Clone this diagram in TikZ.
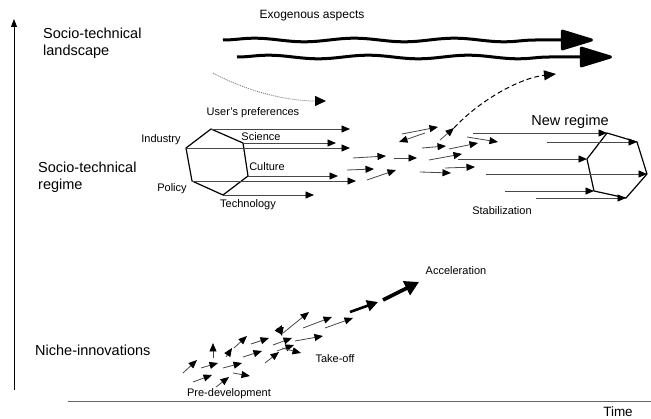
\documentclass[tikz,border=0pt]{standalone}
\usepackage{fontspec}
\setmainfont{Liberation Sans}
\usetikzlibrary{arrows.meta,decorations.pathmorphing}

\tikzset{
  big/.style={font=\fontsize{14.5}{17}\selectfont, align=left, inner sep=0},
  lbl/.style={font=\fontsize{11}{13}\selectfont, inner sep=0},
  arr/.style={draw=black!72, line width=0.8pt, -{Triangle[length=8.5pt,width=7pt,color=black]}},
  hexedge/.style={draw=black, line width=1.2pt, line join=round},
  axisline/.style={draw=black, line width=0.9pt},
  wave/.style={draw=black, line width=3pt, decorate,
    decoration={snake, segment length=100pt, amplitude=1.8pt, post length=36pt}},
}

\begin{document}
\begin{tikzpicture}[x=1pt,y=-1pt]
\useasboundingbox (0,0) rectangle (651,419);

% axes
\coordinate (yb) at (14,390);
\coordinate (yt) at (14,19);
\draw[axisline, -{Triangle[length=8pt,width=6pt]}] (yb) -- (yt);
\coordinate (xl) at (68,401.5);
\coordinate (xr) at (651,401.5);
\draw[draw=black!60, line width=1pt] (xl) -- (xr);
\node[font=\fontsize{13.5}{15}\selectfont, inner sep=0] (time) at (618,412) {Time};

% level labels
\node[big, anchor=west] (land) at (43,43.5) {Socio-technical\\landscape};
\node[big, anchor=west] (reg) at (38,177.5) {Socio-technical\\regime};
\node[big, anchor=west] (niche) at (35,350) {Niche-innovations};

% landscape: exogenous developments
\node[font=\fontsize{12}{14}\selectfont, inner sep=0] (exo) at (312,16) {Exogenous aspects};
\coordinate (w1s) at (223,40);
\coordinate (w1e) at (593,40);
\coordinate (w2s) at (237,57);
\coordinate (w2e) at (612,57);
\draw[wave, -{Triangle[length=36pt,width=21pt,round]}] (w1s) -- (w1e);
\draw[wave, -{Triangle[length=36pt,width=21pt,round]}] (w2s) -- (w2e);

% pressure from landscape onto regime
\coordinate (ds) at (213,73);
\coordinate (de) at (326,101);
\draw[draw=black!55, line width=0.8pt, dash pattern=on 1pt off 1pt, -{Triangle[length=11pt,width=10pt,color=black]}]
  (ds) .. controls (250,93) and (290,101) .. (de);

% old regime hexagon
\coordinate (h1) at (211,129);
\coordinate (h2) at (243,143);
\coordinate (h3) at (248,176);
\coordinate (h4) at (223,195);
\coordinate (h5) at (192,181);
\coordinate (h6) at (186,148);
\draw[hexedge] (h1) -- (h2) -- (h3) -- (h4) -- (h5) -- (h6) -- cycle;

\coordinate (o1) at (350,129);
\coordinate (o2) at (336,143);
\coordinate (o3) at (350,148);
\coordinate (o4) at (338,176);
\coordinate (o5) at (356,181);
\coordinate (o6) at (314,195);
\draw[arr] (h1) -- (o1);
\draw[arr] (h2) -- (o2);
\draw[arr] (h6) -- (o3);
\draw[arr] (h3) -- (o4);
\draw[arr] (h5) -- (o5);
\draw[arr] (h4) -- (o6);

\node[lbl] (pref) at (253,113) {User's preferences};
\node[lbl] (ind) at (161,140) {Industry};
\node[lbl] (sci) at (261,137) {Science};
\node[lbl] (cul) at (267,167) {Culture};
\node[lbl] (pol) at (172,189) {Policy};
\node[lbl] (tech) at (248,205) {Technology};

% regime in flux
\foreach \ax/\ay/\bx/\by in {
  353/158/386/156, 394/158/417/158, 347/170/374/169, 367/180/396/170,
  402/134/438/127, 425/133/399/142, 422/148/446/146, 449/149/478/143,
  429/160/462/154, 420/172/451/173, 445/168/475/167, 467/137/498/142}
  \draw[arr] (\ax,\ay) -- (\bx,\by);

% window of opportunity upward
\coordinate (us) at (440,140);
\coordinate (um) at (454,128);
\coordinate (ue) at (556,74);
\draw[arr] (us) -- (um);
\draw[draw=black, line width=1pt, dash pattern=on 5pt off 3pt, -{Triangle[length=12pt,width=10pt]}]
  (um) .. controls (480,100) and (520,78) .. (ue);

% new regime hexagon
\coordinate (n1) at (607,133);
\coordinate (n2) at (637,142);
\coordinate (n3) at (647,174);
\coordinate (n4) at (626,198);
\coordinate (n5) at (594,191);
\coordinate (n6) at (587,159);
\draw[hexedge] (n1) -- (n2) -- (n3) -- (n4) -- (n5) -- (n6) -- cycle;

\coordinate (m1) at (473,133);
\coordinate (m2) at (547,142);
\coordinate (m6) at (458,159);
\coordinate (m3) at (486,174);
\coordinate (m5) at (505,191);
\coordinate (m4) at (536,198);
\draw[arr] (m1) -- (n1);
\draw[arr] (m2) -- (n2);
\draw[arr] (m6) -- (n6);
\draw[arr] (m3) -- (n3);
\draw[arr] (m5) -- (n5);
\draw[arr] (m4) -- (n4);

\node[big] (newreg) at (570,122) {New regime};
\node[lbl] (stab) at (502,211) {Stabilization};

% niche innovations
\foreach \ax/\ay/\bx/\by in {
  183/373/197/360, 193/382/212/375, 201/368/218/363, 213/358/213/343,
  216/387/229/377, 223/368/242/363, 233/373/250/376, 226/357/232/348,
  234/348/247/336, 243/357/262/351, 251/344/269/338, 265/363/279/352,
  273/345/292/338, 278/332/282/325, 277/351/294/345, 282/348/301/353,
  283/333/309/312, 280/327/282/336, 295/341/323/336, 303/328/332/317,
  325/328/353/318}
  \draw[arr] (\ax,\ay) -- (\bx,\by);

\coordinate (a1s) at (350,312);
\coordinate (a1e) at (378,302);
\coordinate (a2s) at (383,300);
\coordinate (a2e) at (419,282);
\draw[draw=black, line width=2.6pt, -{Triangle[length=11pt,width=11pt]}] (a1s) -- (a1e);
\draw[draw=black, line width=3.6pt, -{Triangle[length=14pt,width=15pt]}] (a2s) -- (a2e);

\node[lbl] (acc) at (456,271) {Acceleration};
\node[lbl] (take) at (335,359) {Take-off};
\node[lbl] (pre) at (229,394) {Pre-development};

\end{tikzpicture}
\end{document}
